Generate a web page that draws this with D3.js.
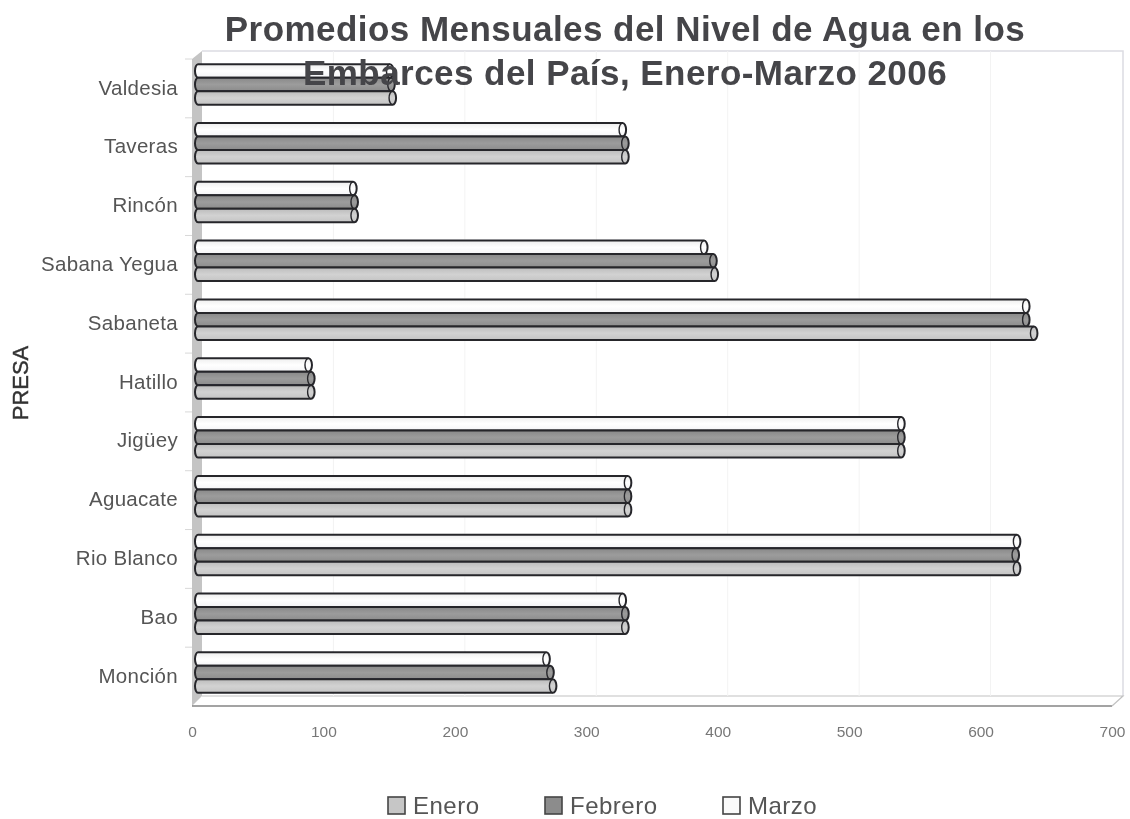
<!DOCTYPE html>
<html>
<head>
<meta charset="utf-8">
<script src="https://cdn.jsdelivr.net/npm/d3@7"></script>
<style>
html, body { margin: 0; padding: 0; background: #fff; }
svg { display: block; }
text { font-family: "Liberation Sans", Arial, sans-serif; }
</style>
</head>
<body>
<svg id="chart" width="1130" height="819"></svg>
<script>
var categories = ['Valdesia', 'Taveras', 'Rincón', 'Sabana Yegua', 'Sabaneta', 'Hatillo', 'Jigüey', 'Aguacate', 'Rio Blanco', 'Bao', 'Monción'];
var seriesNames = ['Marzo', 'Febrero', 'Enero']; // top to bottom inside each group
var legendNames = ['Enero', 'Febrero', 'Marzo'];
var enero = [153, 330, 124, 398, 641, 91, 540, 332, 628, 330, 275];
var febrero = [152, 330, 124, 397, 635, 91, 540, 332, 627, 330, 273];
var marzo = [151, 328, 123, 390, 635, 89, 540, 332, 628, 328, 270];
var xTicks = [0, 100, 200, 300, 400, 500, 600, 700];
var titleLines = ['Promedios Mensuales del Nivel de Agua en los', 'Embarces del País, Enero-Marzo 2006'];

var values = { Enero: enero, Febrero: febrero, Marzo: marzo };
var depth = 10; // 3D offset of the back wall

var svg = d3.select('#chart');
var defs = svg.append('defs');
defs.append('filter').attr('id', 'scan').append('feGaussianBlur').attr('stdDeviation', 0.6);

var stops = {
	Enero: ['#bcbcbc', '#d2d2d2', '#c4c4c4'],
	Febrero: ['#888888', '#9c9c9c', '#8c8c8c'],
	Marzo: ['#eeeeee', '#ffffff', '#f4f4f6']
};
seriesNames.forEach(function(name){
	var grad = defs.append('linearGradient').attr('id', 'g' + name)
		.attr('x1', 0).attr('x2', 0).attr('y1', 0).attr('y2', 1);
	stops[name].forEach(function(c, i){
		grad.append('stop').attr('offset', i / 2).attr('stop-color', c);
	});
});

var root = svg.append('g').attr('filter', 'url(#scan)');

var x = d3.scaleLinear().domain([0, 700]).range([192, 1112]);
var y = d3.scaleBand().domain(categories).range([59, 706]);
var inner = d3.scaleBand().domain(seriesNames).range([0, 40.5]);

var left = x(0), right = x(700), top0 = y.range()[0], bottom = y.range()[1];

// walls and floor
root.append('path')
	.attr('d', 'M' + left + ',' + top0 + 'L' + (left + depth) + ',' + (top0 - 8) + 'L' + (left + depth) + ',' + (bottom - depth) + 'L' + left + ',' + bottom + 'Z')
	.attr('fill', '#c4c4c4');
root.append('path')
	.attr('d', 'M' + (left + depth) + ',' + (top0 - 8) + 'H' + (right + depth + 1) + 'V' + (bottom - depth))
	.attr('fill', 'none').attr('stroke', '#dcdce2').attr('stroke-width', 1.5);
root.append('path')
	.attr('d', 'M' + left + ',' + bottom + 'H' + right)
	.attr('fill', 'none').attr('stroke', '#858585').attr('stroke-width', 1.4);
root.append('path')
	.attr('d', 'M' + right + ',' + bottom + 'L' + (right + depth + 1) + ',' + (bottom - depth) + 'H' + (left + depth))
	.attr('fill', 'none').attr('stroke', '#c2c2c2').attr('stroke-width', 1.2);

// faint gridlines on the back wall
root.selectAll('.grid').data(xTicks.slice(1, -1)).enter().append('line')
	.attr('class', 'grid')
	.attr('x1', function(d){ return x(d) + depth; })
	.attr('x2', function(d){ return x(d) + depth; })
	.attr('y1', top0 - 8).attr('y2', bottom - depth)
	.attr('stroke', '#f3f3f3');

// small ticks between the groups
root.selectAll('.ytick').data(categories).enter().append('line')
	.attr('class', 'ytick')
	.attr('x1', left - 7).attr('x2', left)
	.attr('y1', function(d){ return y(d); })
	.attr('y2', function(d){ return y(d); })
	.attr('stroke', '#d8d8d8');

// axes
var xAxis = root.append('g').attr('transform', 'translate(0,' + (bottom + 20) + ')')
	.call(d3.axisBottom(x).tickValues(xTicks).tickSize(0).tickPadding(0));
xAxis.select('.domain').remove();
xAxis.selectAll('text').attr('fill', '#777').attr('font-size', 15.5).style('font-family', '"Liberation Sans"');

var yAxis = root.append('g').attr('transform', 'translate(' + left + ',0)')
	.call(d3.axisLeft(y).tickSize(0).tickPadding(14));
yAxis.select('.domain').remove();
yAxis.selectAll('text').attr('fill', '#555').attr('font-size', 20.5).attr('letter-spacing', 0.3).attr('dy', '0.3em').style('font-family', '"Liberation Sans"');

// bars, drawn as lying cylinders
var barOffset = 3, lift = -4, capW = 3.5;
var groups = root.selectAll('.cat').data(categories).enter().append('g')
	.attr('class', 'cat')
	.attr('transform', function(d){ return 'translate(0,' + (y(d) + y.bandwidth() / 2 - 20.25 + lift) + ')'; });

seriesNames.forEach(function(name){
	var h = inner.bandwidth();
	var bar = groups.append('g').attr('transform', 'translate(0,' + inner(name) + ')');
	bar.append('path')
		.attr('d', function(d, i){
			var x0 = x(0) + barOffset, x1 = x(values[name][i]) + barOffset - capW;
			return 'M' + (x0 + 3) + ',0H' + x1 + 'A' + capW + ',' + (h / 2) + ' 0 0 1 ' + x1 + ',' + h + 'H' + (x0 + 3) + 'A3,' + (h / 2) + ' 0 0 1 ' + (x0 + 3) + ',0Z';
		})
		.attr('fill', 'url(#g' + name + ')')
		.attr('stroke', '#26262b').attr('stroke-width', 2);
	bar.append('path')
		.attr('d', function(d, i){
			var x1 = x(values[name][i]) + barOffset - capW;
			return 'M' + x1 + ',0A' + capW + ',' + (h / 2) + ' 0 0 0 ' + x1 + ',' + h;
		})
		.attr('fill', 'none').attr('stroke', '#26262b').attr('stroke-width', 1.4);
});

// title
root.selectAll('.title').data(titleLines).enter().append('text')
	.attr('class', 'title')
	.attr('x', 625)
	.attr('y', function(d, i){ return 41 + i * 44; })
	.attr('text-anchor', 'middle')
	.attr('font-size', 35).attr('font-weight', 'bold')
	.attr('letter-spacing', 0.45)
	.attr('fill', '#454548')
	.text(function(d){ return d; });

// axis title
root.append('text')
	.attr('transform', 'translate(28,383) rotate(-90)')
	.attr('text-anchor', 'middle')
	.attr('font-size', 22).attr('fill', '#333').attr('stroke', '#333').attr('stroke-width', 0.4)
	.text('PRESA');

// legend
var legendX = d3.scaleOrdinal().domain(legendNames).range([388, 545, 723]);
var legendFill = { Enero: '#c6c6c6', Febrero: '#8c8c8c', Marzo: '#fafafa' };
var items = root.selectAll('.legend').data(legendNames).enter().append('g')
	.attr('class', 'legend')
	.attr('transform', function(d){ return 'translate(' + legendX(d) + ',797)'; });
items.append('rect').attr('width', 17).attr('height', 17)
	.attr('fill', function(d){ return legendFill[d]; })
	.attr('stroke', '#444').attr('stroke-width', 1.6);
items.append('text').attr('x', 25).attr('y', 16.5)
	.attr('font-size', 24).attr('letter-spacing', 0.5).attr('fill', '#555')
	.text(function(d){ return d; });
</script>
</body>
</html>
